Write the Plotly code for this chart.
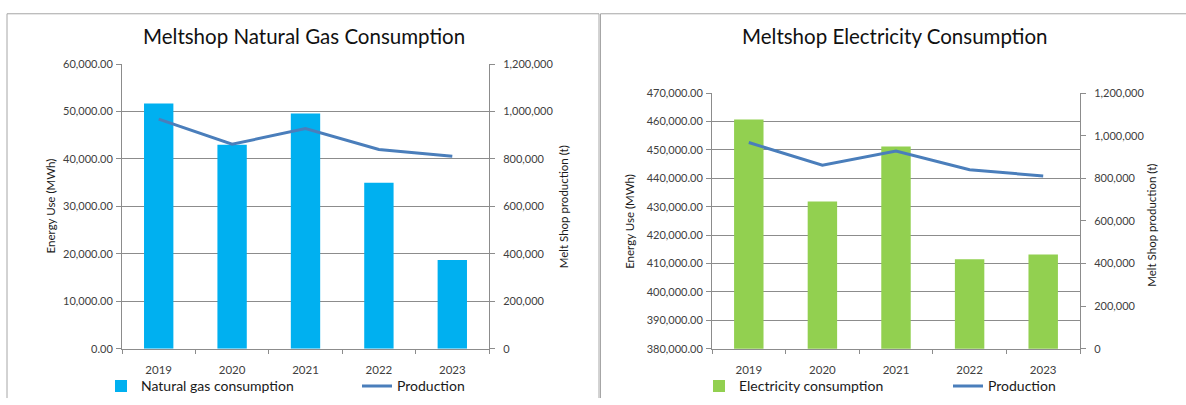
import plotly.graph_objects as go

# ---- data ----
years = ["2019", "2020", "2021", "2022", "2023"]
natural_gas_mwh = [51700, 43000, 49600, 35000, 18700]
electricity_mwh = [460700, 431800, 451200, 411500, 413200]
production_t = [968000, 862000, 928000, 840000, 811000]

W, H = 1186, 405
FONT = "Lato"
GAS_BLUE = "#00B0F0"
ELEC_GREEN = "#92D050"
LINE_BLUE = "#4A7EBB"
GRID = "#8C8C8C"
TEXT = "#404040"


def px(x):
    return x / W


def py(y):
    return 1 - y / H


fig = go.Figure()

# left panel: natural gas
fig.add_trace(go.Bar(x=years, y=natural_gas_mwh, name="Natural gas consumption",
                     marker=dict(color=GAS_BLUE, line=dict(width=0)),
                     xaxis="x", yaxis="y", legend="legend"))
fig.add_trace(go.Scatter(x=years, y=production_t, name="Production", mode="lines",
                         line=dict(color=LINE_BLUE, width=3),
                         xaxis="x", yaxis="y2", legend="legend3"))

# right panel: electricity
fig.add_trace(go.Bar(x=years, y=electricity_mwh, name="Electricity consumption",
                     marker=dict(color=ELEC_GREEN, line=dict(width=0)),
                     xaxis="x2", yaxis="y3", legend="legend2"))
fig.add_trace(go.Scatter(x=years, y=production_t, name="Production", mode="lines",
                         line=dict(color=LINE_BLUE, width=3),
                         xaxis="x2", yaxis="y4", legend="legend4"))

tick_font = dict(family=FONT, size=11, color=TEXT)

xcommon = dict(type="category", showgrid=False, showline=True, linecolor=GRID,
               linewidth=1, ticks="outside", ticklen=4, tickcolor=GRID,
               tickson="boundaries", ticklabelstandoff=11,
               tickfont=dict(family=FONT, size=11.5, color=TEXT),
               fixedrange=True)

ycommon = dict(showline=True, linecolor=GRID, linewidth=1, ticks="outside",
               ticklen=5, tickcolor=GRID, tickfont=tick_font, zeroline=False,
               fixedrange=True)

left_x = [px(122), px(489)]
right_x = [px(712), px(1080)]

legend_font = dict(family=FONT, size=14, color="#1a1a1a")


def legend_at(x_text):
    # legend text sits ~41 px right of the legend's left edge
    return dict(orientation="h", x=px(x_text - 41), xanchor="left", y=py(392),
                yanchor="middle", font=legend_font, bgcolor="rgba(0,0,0,0)")


fig.update_layout(
    width=W, height=H,
    margin=dict(l=0, r=0, t=0, b=0),
    paper_bgcolor="white", plot_bgcolor="white",
    bargap=0.6,
    font=dict(family=FONT, color=TEXT),
    xaxis=dict(domain=left_x, anchor="y", **xcommon),
    yaxis=dict(domain=[py(353), py(59)], range=[0, 60000], dtick=10000,
               tickformat=",.2f", showgrid=True, gridcolor=GRID, gridwidth=1,
               ticklabelstandoff=1, anchor="x", **ycommon),
    yaxis2=dict(overlaying="y", side="right", range=[0, 1200000], dtick=200000,
                tickformat=",d", showgrid=False, ticklabelstandoff=6,
                anchor="x", **ycommon),
    xaxis2=dict(domain=right_x, anchor="y3", **xcommon),
    yaxis3=dict(domain=[py(353), py(89)], range=[380000, 470000], dtick=10000,
                tick0=380000, tickformat=",.2f", showgrid=True, gridcolor=GRID,
                gridwidth=1, ticklabelstandoff=1, anchor="x2", **ycommon),
    yaxis4=dict(overlaying="y3", side="right", range=[0, 1200000], dtick=200000,
                tickformat=",d", showgrid=False, ticklabelstandoff=6,
                anchor="x2", **ycommon),
    legend=legend_at(142),
    legend3=legend_at(398),
    legend2=legend_at(740),
    legend4=legend_at(989),
    showlegend=True,
)

# panel frames (kept inside the page)
frame_line = dict(color="#A6A6A6", width=1)
fig.add_shape(type="path", xref="paper", yref="paper", layer="below",
              path=f"M {px(7)},{py(404)} L {px(7)},{py(7)} L {px(599)},{py(7)} L {px(599)},{py(404)}",
              line=frame_line)
fig.add_shape(type="path", xref="paper", yref="paper", layer="below",
              path=f"M {px(600.5)},{py(404)} L {px(600.5)},{py(7)} L {px(1186)},{py(7)}",
              line=frame_line)

# chart titles and axis titles
ann = []
ann.append(dict(text="Meltshop Natural Gas Consumption", x=px(304), y=py(30),
                font=dict(family=FONT, size=20.5, color="#111111")))
ann.append(dict(text="Meltshop Electricity Consumption", x=px(894), y=py(30),
                font=dict(family=FONT, size=20.5, color="#111111")))
ann.append(dict(text="Energy Use (MWh)", x=px(50), y=py(206), textangle=-90,
                font=dict(family=FONT, size=11.5, color="#1a1a1a")))
ann.append(dict(text="Melt Shop production (t)", x=px(563), y=py(207), textangle=-90,
                font=dict(family=FONT, size=11.5, color="#1a1a1a")))
ann.append(dict(text="Energy Use (MWh)", x=px(630), y=py(222), textangle=-90,
                font=dict(family=FONT, size=11.5, color="#1a1a1a")))
ann.append(dict(text="Melt Shop production (t)", x=px(1152), y=py(226), textangle=-90,
                font=dict(family=FONT, size=11.5, color="#1a1a1a")))
for a in ann:
    a.update(xref="paper", yref="paper", showarrow=False, xanchor="center",
             yanchor="middle")
    fig.add_annotation(**a)

fig.write_html("out.html")
